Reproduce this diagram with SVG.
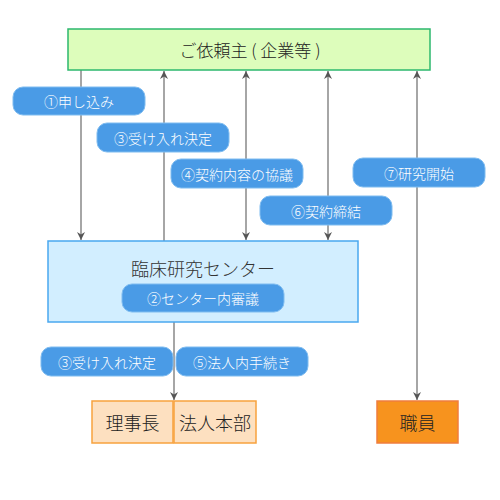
<svg xmlns="http://www.w3.org/2000/svg" width="500" height="500" viewBox="0 0 500 500">
<defs>
<marker id="ah" viewBox="0 0 10 10" refX="10" refY="5" markerWidth="8" markerHeight="8" markerUnits="userSpaceOnUse" orient="auto-start-reverse">
<path d="M0,0 L10,5 L0,10 L3,5 Z" fill="#555"/>
</marker>
</defs>
<style>
text{font-family:"Noto Sans CJK JP","Noto Sans",sans-serif;text-anchor:middle;dominant-baseline:central}
.con{stroke:#888;stroke-width:1.5;fill:none}
.pill{fill:#4a9be6;stroke:#7fbcf0;stroke-width:1}
.pt{fill:#fff;font-size:14px;font-weight:300}
.bt{fill:#222;font-size:18px;font-weight:300}
</style>
<rect width="500" height="500" fill="#fff"/>
<g id="connectors">
<line class="con" x1="81" y1="70" x2="81" y2="240" marker-end="url(#ah)"/>
<line class="con" x1="164" y1="241" x2="164" y2="71" marker-end="url(#ah)"/>
<line class="con" x1="246" y1="71" x2="246" y2="240" marker-start="url(#ah)" marker-end="url(#ah)"/>
<line class="con" x1="328" y1="71" x2="328" y2="240" marker-start="url(#ah)" marker-end="url(#ah)"/>
<line class="con" x1="417" y1="71" x2="417" y2="400" marker-start="url(#ah)" marker-end="url(#ah)"/>
<line class="con" x1="174" y1="322" x2="174" y2="400" marker-end="url(#ah)"/>
</g>
<g id="client">
<rect x="68" y="29" width="362" height="41" fill="#ddfdbb" stroke="#2db86e" stroke-width="1.5"/>
<text class="bt" x="250" y="49" font-size="17" style="font-size:17px">ご依頼主 ( 企業等 )</text>
</g>
<g id="center">
<rect x="48" y="241" width="310" height="81" fill="#d2eeff" stroke="#4aa8ef" stroke-width="1.5"/>
<text x="203" y="268" fill="#333" font-size="18" font-weight="300">臨床研究センター</text>
</g>
<g id="l1"><rect class="pill" x="13" y="87" width="132" height="28" rx="10"/><text class="pt" x="79" y="101">①申し込み</text></g>
<g id="l3a"><rect class="pill" x="97" y="123" width="132" height="29" rx="10"/><text class="pt" x="163" y="137.5">③受け入れ決定</text></g>
<g id="l4"><rect class="pill" x="171" y="159" width="132" height="29" rx="10"/><text class="pt" x="237" y="173.5">④契約内容の協議</text></g>
<g id="l6"><rect class="pill" x="260" y="196" width="132" height="29" rx="10"/><text class="pt" x="326" y="210.5">⑥契約締結</text></g>
<g id="l7"><rect class="pill" x="353" y="158" width="132" height="29" rx="10"/><text class="pt" x="419" y="172.5">⑦研究開始</text></g>
<g id="l2"><rect class="pill" x="122" y="284" width="162" height="28" rx="10"/><text class="pt" x="203" y="298">②センター内審議</text></g>
<g id="l3b"><rect class="pill" x="41" y="347" width="132" height="29" rx="10"/><text class="pt" x="107" y="361.5">③受け入れ決定</text></g>
<g id="l5"><rect class="pill" x="176" y="347" width="132" height="29" rx="10"/><text class="pt" x="242" y="361.5">⑤法人内手続き</text></g>
<g id="rijicho">
<rect x="92" y="401" width="81" height="42" fill="#fde0c0" stroke="#f7a23e" stroke-width="1.5"/>
<text class="bt" x="132.5" y="422">理事長</text>
</g>
<g id="honbu">
<rect x="174" y="401" width="82" height="42" fill="#fde0c0" stroke="#f7a23e" stroke-width="1.5"/>
<text class="bt" x="215" y="422">法人本部</text>
</g>
<g id="shokuin">
<rect x="377" y="401" width="81" height="42" fill="#f7931e" stroke="#f07d3e" stroke-width="1.5"/>
<text class="bt" x="417.5" y="422">職員</text>
</g>
</svg>
